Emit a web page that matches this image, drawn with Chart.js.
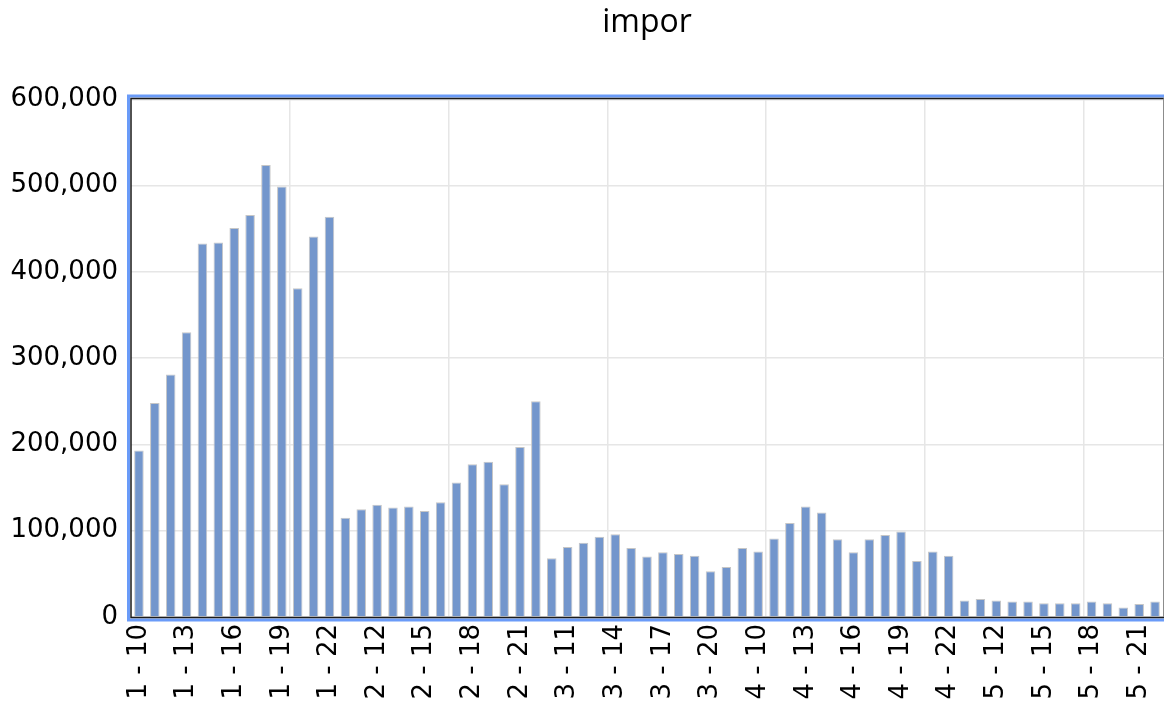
<!DOCTYPE html>
<html>
<head>
<meta charset="utf-8">
<script src="https://cdn.jsdelivr.net/npm/chart.js@4.4.1/dist/chart.umd.min.js"></script>
<style>
  html, body { margin: 0; padding: 0; background: #ffffff; }
  #wrap { width: 1164px; height: 709px; }
</style>
</head>
<body>
<div id="wrap"><canvas id="c" width="1164" height="709"></canvas></div>
<script>
// ---- data ----
const months = ['1', '2', '3', '4', '5'];
const days = [10, 11, 12, 13, 14, 15, 16, 17, 18, 19, 20, 21, 22];
const month1 = [193000, 248000, 281000, 330000, 433000, 434000, 451000, 466000, 524000, 499000, 381000, 441000, 464000];
const month2 = [115000, 125000, 130000, 127000, 128000, 123000, 133000, 156000, 177000, 180000, 154000, 197000, 250000];
const month3 = [68000, 81000, 86000, 93000, 96000, 80000, 70000, 75000, 73000, 71000, 53000, 58000, 80000];
const month4 = [76000, 91000, 109000, 128000, 121000, 90000, 75000, 90000, 95000, 99000, 65000, 76000, 71000];
const month5 = [19000, 21000, 19000, 18000, 18000, 16000, 16000, 16000, 18000, 16000, 11000, 15000, 18000];
const yTicks = [0, 100000, 200000, 300000, 400000, 500000, 600000];
const titleText = 'impor';

const categories = months.flatMap(m => days.map(d => m + ' - ' + d));
const values = [].concat(month1, month2, month3, month4, month5);

const frame = {
  id: 'frame',
  afterDatasetsDraw(chart) {
    const a = chart.chartArea;
    const ctx = chart.ctx;
    ctx.save();
    // blue outer highlight
    ctx.strokeStyle = '#6a9bf8';
    ctx.lineWidth = 3;
    ctx.beginPath();
    ctx.moveTo(a.right + 2, a.top - 3.5);
    ctx.lineTo(a.left - 2.5, a.top - 3.5);
    ctx.lineTo(a.left - 2.5, a.bottom + 3);
    ctx.lineTo(a.right + 2, a.bottom + 3);
    ctx.stroke();
    // dark inner line
    ctx.strokeStyle = '#1a1a1a';
    ctx.lineWidth = 1.5;
    ctx.beginPath();
    ctx.moveTo(a.right + 1, a.top - 1);
    ctx.lineTo(a.left, a.top - 1);
    ctx.lineTo(a.left, a.bottom + 0.5);
    ctx.lineTo(a.right + 1, a.bottom + 0.5);
    ctx.stroke();
    // right grey line
    ctx.strokeStyle = '#8c8c8c';
    ctx.lineWidth = 1;
    ctx.beginPath();
    ctx.moveTo(a.right + 0.5, a.top - 1);
    ctx.lineTo(a.right + 0.5, a.bottom);
    ctx.stroke();
    ctx.restore();
  }
};

new Chart(document.getElementById('c'), {
  type: 'bar',
  data: {
    labels: categories,
    datasets: [{
      label: titleText,
      data: values,
      backgroundColor: '#7396cc',
      borderColor: '#c6c6c6',
      borderWidth: 1,
      borderSkipped: 'bottom',
      barPercentage: 0.6,
      categoryPercentage: 1.0
    }]
  },
  options: {
    responsive: false,
    animation: false,
    events: [],
    layout: { padding: { left: 0, right: 1, top: 0, bottom: 0 } },
    plugins: {
      legend: { display: false },
      tooltip: { enabled: false },
      title: {
        display: true,
        text: titleText,
        fullSize: false,
        color: '#000000',
        font: { family: 'Open Sans', size: 32, weight: 'normal' },
        padding: { top: 4, bottom: 57 }
      }
    },
    scales: {
      x: {
        offset: true,
        border: { display: false },
        grid: {
          offset: true,
          drawTicks: false,
          lineWidth: 1.5,
          color: ctx => (ctx.index > 0 && ctx.index % 10 === 0) ? '#e6e6e6' : 'rgba(0,0,0,0)'
        },
        ticks: {
          autoSkip: false,
          minRotation: 90,
          maxRotation: 90,
          padding: 7,
          color: '#000000',
          font: { family: 'DejaVu Sans', size: 26 },
          callback: function (v, i) { return i % 3 === 0 ? this.getLabelForValue(v) : ''; }
        },
        afterFit: s => { s.height = 92; s.paddingLeft = 0; s.paddingRight = 0; }
      },
      y: {
        min: 0,
        max: 600000,
        border: { display: false },
        afterBuildTicks: s => { s.ticks = yTicks.map(v => ({ value: v })); },
        grid: {
          drawTicks: false,
          lineWidth: 1.5,
          color: '#e6e6e6'
        },
        ticks: {
          padding: 13,
          color: '#000000',
          font: { family: 'DejaVu Sans', size: 26 },
          callback: v => v.toLocaleString('en-US')
        },
        afterFit: s => { s.width = 131; }
      }
    }
  },
  plugins: [frame]
});
</script>
</body>
</html>
